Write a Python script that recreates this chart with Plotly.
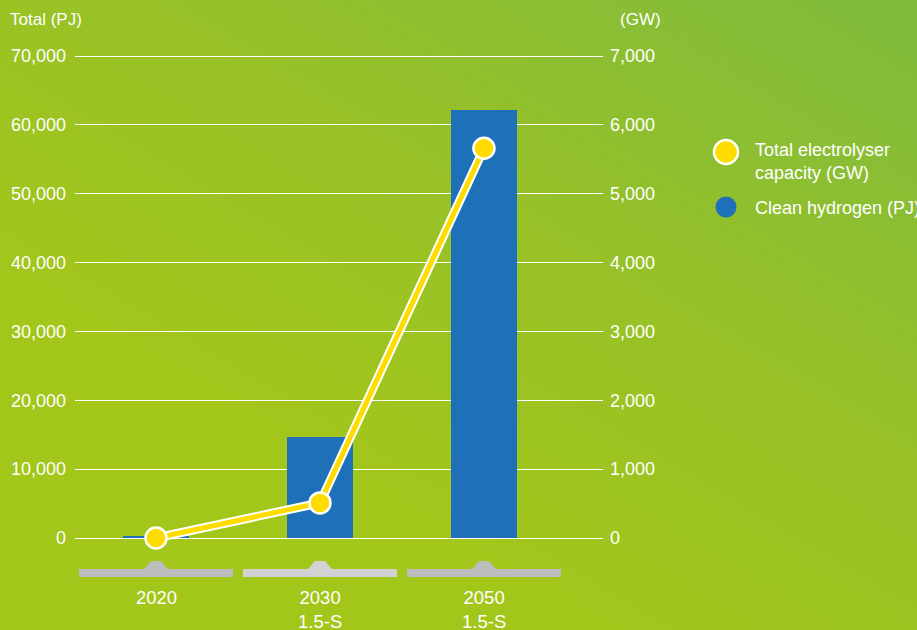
import plotly.graph_objects as go

categories = ["2020", "2030", "2050"]
category_labels = ["2020", "2030<br>1.5-S", "2050<br>1.5-S"]
clean_hydrogen_pj = [150, 14700, 62200]
electrolyser_gw = [0, 510, 5660]
pj_ticks = [0, 10000, 20000, 30000, 40000, 50000, 60000, 70000]
gw_ticks = [0, 1000, 2000, 3000, 4000, 5000, 6000, 7000]
legend_labels = ["Total electrolyser<br>capacity (GW)", "Clean hydrogen (PJ)"]

FONT = "Liberation Sans, Arial, Helvetica, sans-serif"
YELLOW = "#ffdc00"
BLUE = "#1e70b9"
xidx = list(range(len(categories)))

# pixel positions of y=0 and y=70000, and plot x extent
L, R = 75, 603
Y0, Y70 = 538, 56
PAD = 2  # px of padding so edge gridlines are drawn
T, B = Y70 - PAD, Y0 + PAD
PW, PH = R - L, B - T
units_per_px = 70000 / (Y0 - Y70)
ypad = PAD * units_per_px


def px(xp):
    return (xp - L) / PW


def py(yp):
    return (B - yp) / PH


fig = go.Figure()

fig.add_trace(go.Bar(x=xidx, y=clean_hydrogen_pj, width=0.4, marker=dict(color=BLUE, line=dict(width=0)),
                     showlegend=False, yaxis="y"))
fig.add_trace(go.Scatter(x=xidx, y=electrolyser_gw, mode="lines", line=dict(color="white", width=9),
                         yaxis="y2", showlegend=False, cliponaxis=False, hoverinfo="skip"))
fig.add_trace(go.Scatter(x=xidx, y=electrolyser_gw, mode="lines+markers", line=dict(color=YELLOW, width=5),
                         marker=dict(size=21, color=YELLOW, line=dict(color="white", width=2.5)),
                         yaxis="y2", showlegend=False, cliponaxis=False))

shapes = []
for i in xidx:
    col = "#d2d2d2" if i == 1 else "#bcbcbc"
    shapes.append(dict(type="rect", xref="x", yref="paper", x0=i - 0.47, x1=i + 0.47, y0=py(577), y1=py(569),
                       fillcolor=col, line=dict(width=0), layer="above"))
    shapes.append(dict(type="path", xref="x", yref="paper",
                       path=f"M {i-0.075} {py(569.2)} L {i-0.03} {py(561)} L {i+0.03} {py(561)} L {i+0.075} {py(569.2)} Z",
                       fillcolor=col, line=dict(width=0), layer="above"))

# manual legend
leg_items = [(YELLOW, 12, 152, 2.5), (BLUE, 10.5, 207, 0)]
annotations = []
for col, r, yc, lw in leg_items:
    shapes.append(dict(type="circle", xref="paper", yref="paper", xsizemode="pixel", ysizemode="pixel",
                       xanchor=px(726), yanchor=py(yc), x0=-r, x1=r, y0=-r, y1=r,
                       fillcolor=col, line=dict(color="white", width=lw)))
annotations.append(dict(text=legend_labels[0], xref="paper", yref="paper", x=px(753), y=py(161.5),
                        xanchor="left", yanchor="middle", align="left", showarrow=False,
                        font=dict(color="white", size=18, family=FONT)))
annotations.append(dict(text=legend_labels[1], xref="paper", yref="paper", x=px(753), y=py(208),
                        xanchor="left", yanchor="middle", align="left", showarrow=False,
                        font=dict(color="white", size=18, family=FONT)))

annotations += [
    dict(text="Total (PJ)", xref="paper", yref="paper", x=px(8), y=py(19), xanchor="left", yanchor="middle",
         showarrow=False, font=dict(color="white", size=17, family=FONT)),
    dict(text="(GW)", xref="paper", yref="paper", x=px(618), y=py(19), xanchor="left", yanchor="middle",
         showarrow=False, font=dict(color="white", size=17, family=FONT)),
]
for i, lab in zip(xidx, category_labels):
    annotations.append(dict(text=lab, xref="x", yref="paper", x=i, y=py(585), xanchor="center", yanchor="top",
                            showarrow=False, font=dict(color="white", size=18.5, family=FONT)))

svg = ("data:image/svg+xml;utf8,<svg xmlns='http://www.w3.org/2000/svg' width='917' height='630'>"
       "<defs><linearGradient id='g' x1='1' y1='0' x2='0.35' y2='0.75'>"
       "<stop offset='0' stop-color='%2380bb3d'/><stop offset='0.55' stop-color='%2397c127'/>"
       "<stop offset='1' stop-color='%23a3c61a'/></linearGradient></defs>"
       "<rect width='917' height='630' fill='url(%23g)'/></svg>")

fig.update_layout(
    width=917, height=630,
    margin=dict(l=L, r=917 - R, t=T, b=630 - B, pad=0),
    paper_bgcolor="#a3c61a", plot_bgcolor="rgba(0,0,0,0)",
    font=dict(family=FONT, color="white", size=17),
    images=[dict(source=svg, xref="paper", yref="paper", x=-L / PW, y=1 + T / PH,
                 sizex=917 / PW, sizey=630 / PH, xanchor="left", yanchor="top", sizing="stretch", layer="below")],
    xaxis=dict(range=[-0.494, 2.726], showgrid=False, zeroline=False, showticklabels=False, fixedrange=True),
    yaxis=dict(range=[-ypad, 70000 + ypad], tickvals=pj_ticks, tickformat=",", gridcolor="white", gridwidth=1.3,
               zeroline=False, showline=False, ticks="", ticklabelstandoff=8,
               tickfont=dict(color="white", size=18, family=FONT)),
    yaxis2=dict(range=[-ypad / 10, 7000 + ypad / 10], tickvals=gw_ticks, tickformat=",", overlaying="y",
                side="right", showgrid=False, zeroline=False, ticks="", ticklabelstandoff=6,
                tickfont=dict(color="white", size=18, family=FONT)),
    showlegend=False,
    shapes=shapes, annotations=annotations, bargap=0,
)

fig.write_html("out.html", config={"displayModeBar": False},
               post_script="document.body.style.margin='0';document.body.style.overflow='hidden';")
